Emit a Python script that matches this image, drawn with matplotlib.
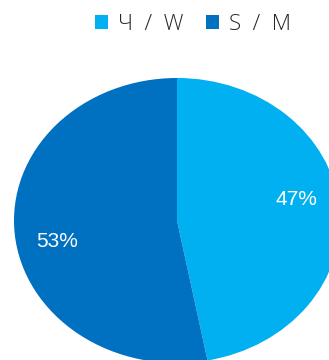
import numpy as np
import matplotlib.pyplot as plt
from matplotlib.patches import Patch

# Share of respondents by gender
labels = ['Ч  /  W', 'S  /  M']
values = [47, 53]
colors = ['#00B0F0', '#0070C0']

fig = plt.figure(figsize=(3.29, 3.6), dpi=100)
# Pie is stretched horizontally and runs off the right/bottom edge
ax = fig.add_axes([14 / 329, -3 / 360, 326 / 329, 285 / 360])

wedges, texts, autotexts = ax.pie(
    values, colors=colors, startangle=90, counterclock=False,
    autopct=lambda p: f'{p:.0f}%', pctdistance=0.75,
    wedgeprops=dict(linewidth=0),
    textprops=dict(color='white', fontsize=15, family=['Liberation Sans', 'DejaVu Sans']),
)
# nudge the percentage labels a little counter-clockwise
for w, t in zip(wedges, autotexts):
    a = np.deg2rad((w.theta1 + w.theta2) / 2 + 6)
    t.set_position((0.75 * np.cos(a), 0.75 * np.sin(a)))

ax.set_aspect('auto')
ax.set_xlim(-1, 1)
ax.set_ylim(-1, 1)
ax.axis('off')

handles = [Patch(facecolor=c, edgecolor='none') for c in colors]
fig.legend(handles, labels, loc='center', bbox_to_anchor=(193 / 329, 1 - 24 / 360),
           ncol=2, frameon=False, handlelength=0.6, handleheight=0.6,
           handletextpad=0.45, columnspacing=1.0,
           prop=dict(family=['Open Sans', 'DejaVu Sans'], size=16, weight='light'),
           labelcolor='#262626')

fig.savefig('out.png', dpi=100)
